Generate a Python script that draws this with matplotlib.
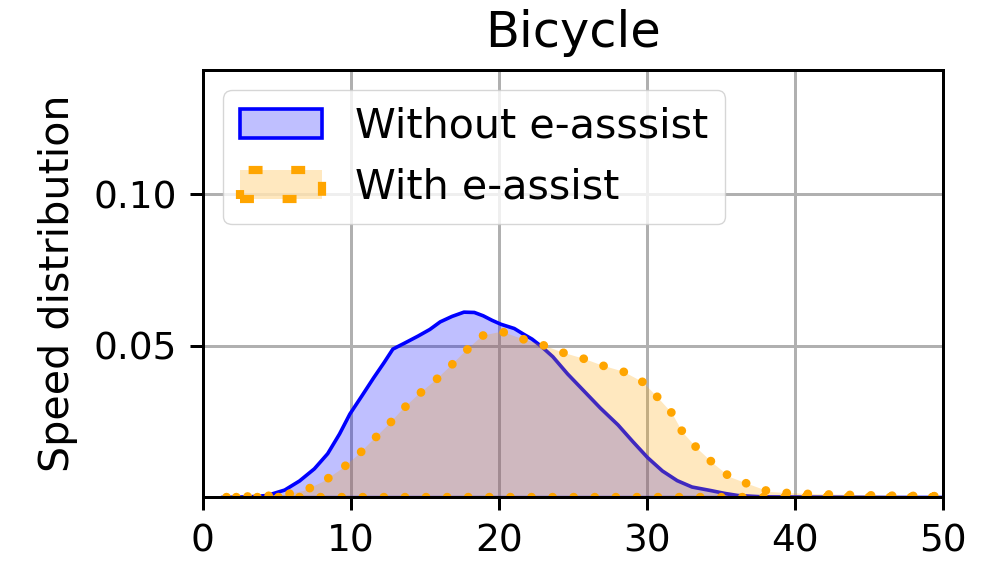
import matplotlib
matplotlib.use('Agg')
import matplotlib.pyplot as plt
from matplotlib.patches import Patch

# speed (km/h) vs density
speed_without = [1.2, 3, 4.3, 5.5, 6.5, 7.5, 8.4, 9.2, 9.9, 10.7, 11.5, 12.2, 12.8, 13.6,
                 14.5, 15.3, 16, 16.8, 17.6, 18.3, 18.9, 19.5, 20.1, 21, 21.6, 22.2, 22.8,
                 23.6, 24.6, 25.7, 26.8, 28, 29, 30, 31, 32, 33, 34.3, 35.2, 36.1, 38, 42,
                 46, 50]
dens_without = [0, 0.0002, 0.0007, 0.0025, 0.0055, 0.0095, 0.0145, 0.021, 0.0276, 0.0335,
                0.0395, 0.0445, 0.049, 0.051, 0.0533, 0.0555, 0.058, 0.0598, 0.0612, 0.0611,
                0.060, 0.0585, 0.0572, 0.0558, 0.054, 0.0523, 0.050, 0.0465, 0.0408, 0.0352,
                0.0296, 0.024, 0.0185, 0.0132, 0.0088, 0.0056, 0.0035, 0.0023, 0.0014,
                0.0007, 0.0002, 0.0001, 0, 0]

speed_with = [1.6, 3, 4.3, 5.4, 6.8, 8.1, 9.3, 10.4, 11.4, 12.5, 13.5, 14.5, 15.7, 16.7,
              17.7, 18.9, 20.2, 21.5, 22.9, 24.3, 25.7, 27, 28.4, 29.7, 30.7, 31.7, 32.4,
              33.4, 34.5, 35.6, 37, 38.3, 39.7, 41.2, 43, 46, 50]
dens_with = [0, 0.0002, 0.0004, 0.0007, 0.002, 0.005, 0.009, 0.0135, 0.0184, 0.0237, 0.029,
             0.0336, 0.0385, 0.0431, 0.048, 0.0533, 0.0546, 0.0523, 0.0503, 0.0477, 0.0457,
             0.0434, 0.0414, 0.038, 0.033, 0.0276, 0.0214, 0.016, 0.011, 0.0066, 0.004,
             0.0017, 0.0013, 0.001, 0.0008, 0.0005, 0.0003]

labels = ['Without e-asssist', 'With e-assist']
x_ticks = [0, 10, 20, 30, 40, 50]
y_ticks = [0.05, 0.10]

k = 2.7  # scale from a small 10pt figure
plt.rcParams.update({
    'font.size': 11 * k,
    'xtick.labelsize': 10 * k,
    'ytick.labelsize': 10 * k,
    'axes.linewidth': 0.8 * k,
    'xtick.major.size': 3.5 * k,
    'ytick.major.size': 3.5 * k,
    'xtick.major.width': 0.8 * k,
    'ytick.major.width': 0.8 * k,
    'xtick.major.pad': 3.5 * k,
    'ytick.major.pad': 3.5 * k,
    'grid.linewidth': 0.8 * k,
    'axes.titlepad': 6 * k,
    'axes.labelpad': 4 * k,
})

blue_face = (0, 0, 1, 0.25)
orange_face = (1, 0.647, 0, 0.25)

fig = plt.figure(figsize=(9.94, 5.63), dpi=100)
ax = fig.add_axes([0.204, 0.117, 0.745, 0.759])

ax.fill_between(speed_without, dens_without, facecolor=blue_face,
                edgecolor='blue', linewidth=2.6)
ax.fill_between(speed_with, dens_with, facecolor=orange_face,
                edgecolor='orange', linestyle=(0, (0.01, 2.4)), linewidth=6.3,
                capstyle='round')

ax.set_xlim(0, 50)
ax.set_ylim(0, 0.141)
ax.set_xticks(x_ticks)
ax.set_yticks(y_ticks)
ax.grid(True)
ax.set_axisbelow(True)
ax.set_title('Bicycle')
ax.set_ylabel('Speed distribution')

handles = [
    Patch(facecolor=blue_face, edgecolor='blue', linewidth=2.6),
    Patch(facecolor=orange_face, edgecolor='orange', linestyle=(0, (1.7, 3.5)),
          linewidth=5.9),
]
ax.legend(handles, labels, loc='upper left')

fig.savefig('out.png', dpi=100)
